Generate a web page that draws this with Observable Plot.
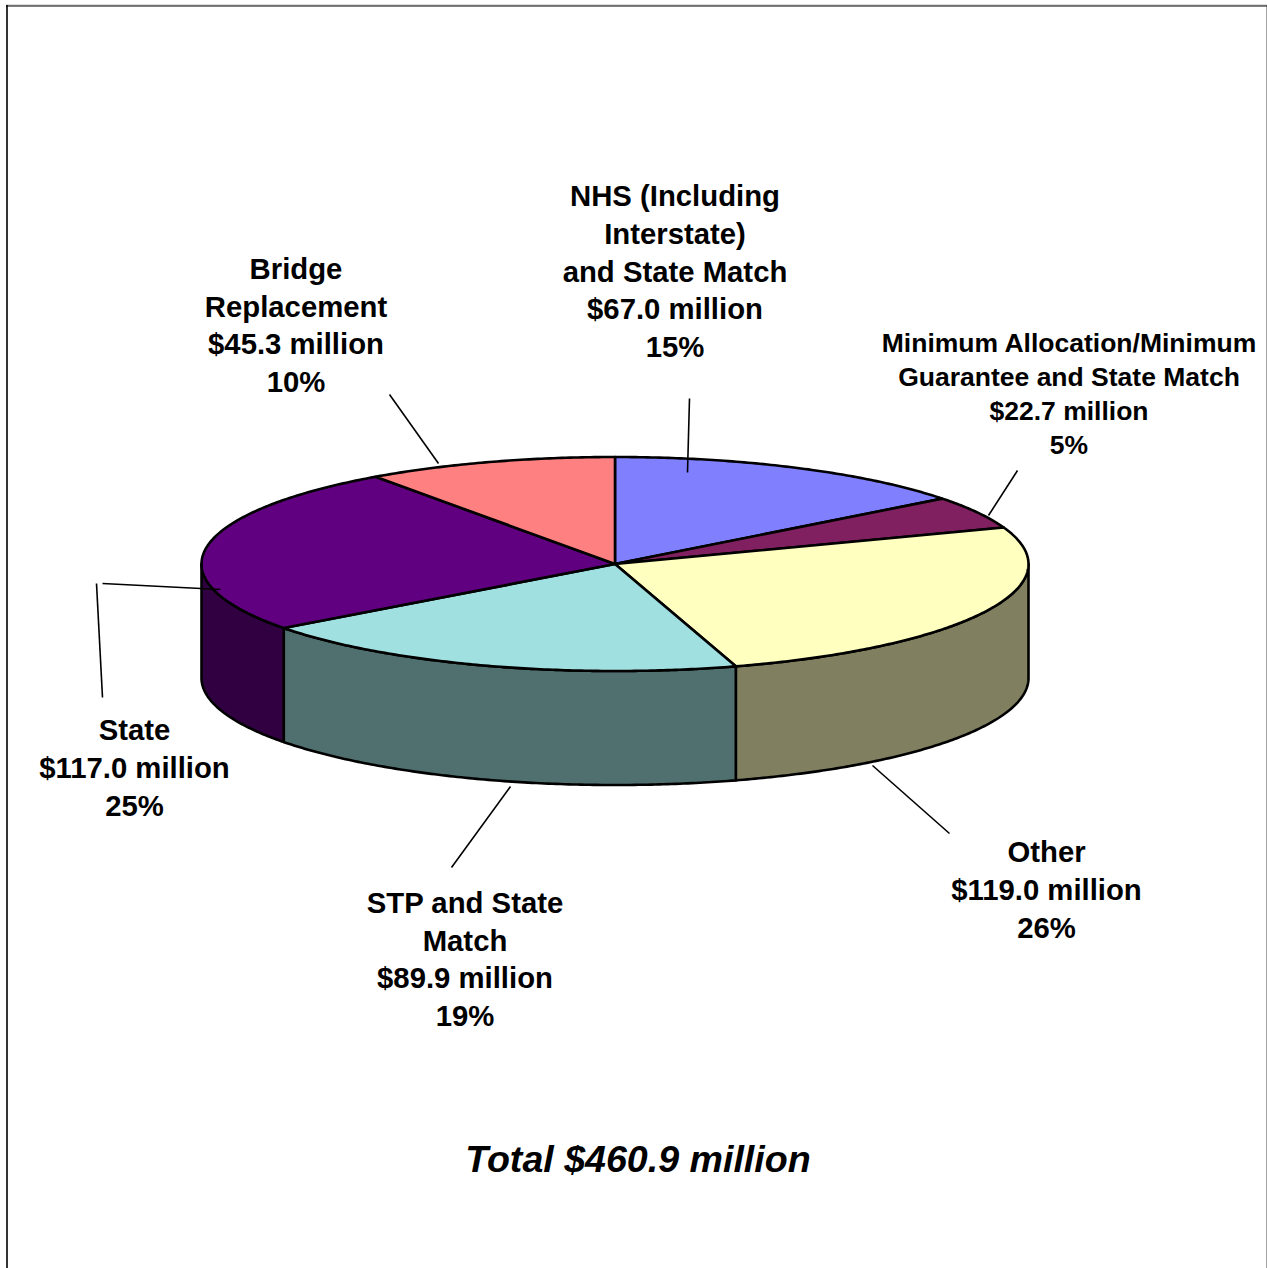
<!DOCTYPE html>
<html>
<head>
<meta charset="utf-8">
<style>html,body{margin:0;padding:0;background:#fff}svg{display:block}</style>
<script src="https://cdn.jsdelivr.net/npm/d3@7"></script>
<script src="https://cdn.jsdelivr.net/npm/@observablehq/plot@0.6"></script>
</head>
<body>
<div id="chart"></div>
<script>
// Data, clockwise from twelve o'clock
const categories = ["NHS (Including\nInterstate)\nand State Match", "Minimum Allocation/Minimum\nGuarantee and State Match", "Other", "STP and State\nMatch", "State", "Bridge\nReplacement"];
const millions = [67.0, 22.7, 119.0, 89.9, 117.0, 45.3];
const percents = [15, 5, 26, 19, 25, 10];
const totalLabel = "Total $460.9 million";

// Styling
const topColors = ["#8080FF", "#802060", "#FFFFC0", "#A0E0E0", "#600080", "#FF8080"];
const sideColors = ["#404080", "#401030", "#808060", "#507070", "#300040", "#804040"];

// Layout
const W = 1267, H = 1268;
const cx = 614.5, cy = 563.5, rx = 413.5, ry = 107, depth = 114;
const FONT = "Liberation Sans, Arial, sans-serif";
const labelAnchors = [[674.5, 269, 29.3], [1068.5, 392, 26.5], [1046, 887.5, 29.3], [464.5, 957, 29.3], [134, 765.5, 29.3], [295.5, 323, 29.3]];
const leaders = [
  [[689, 398], [687, 472]], [[1017, 470], [988, 515]], [[949, 833], [872, 765]],
  [[510, 786], [451, 867]], [[96, 583], [102, 697]], [[102, 583], [220, 589]], [[389, 394], [438, 463]]
];

const total = d3.sum(millions);
const cum = d3.cumsum(millions);
const slices = millions.map((v, i) => ({
  i,
  a0: ((cum[i] - v) / total) * 2 * Math.PI,
  a1: (cum[i] / total) * 2 * Math.PI
}));
const px = a => cx + rx * Math.sin(a);
const py = (a, d = 0) => cy - ry * Math.cos(a) + d;
function arc(a0, a1, d = 0) {
  const n = Math.max(2, Math.ceil((a1 - a0) / 0.01));
  return d3.range(n + 1).map(k => {
    const a = a0 + (a1 - a0) * k / n;
    return [px(a), py(a, d)];
  });
}
const topRows = slices.flatMap(s =>
  [[cx, cy], ...arc(s.a0, s.a1), [cx, cy]].map(([x, y]) => ({x, y, i: s.i})));
const sideRows = slices.flatMap(s => {
  const a0 = Math.max(s.a0, Math.PI / 2), a1 = Math.min(s.a1, 3 * Math.PI / 2);
  if (a1 <= a0) return [];
  const pts = [...arc(a0, a1), ...arc(a0, a1, depth).reverse()];
  pts.push(pts[0]);
  return pts.map(([x, y]) => ({x, y, i: s.i}));
});
const labelRows = categories.map((c, i) => ({
  text: `${c}\n$${millions[i].toFixed(1)} million\n${percents[i]}%`,
  x: labelAnchors[i][0], y: labelAnchors[i][1], size: labelAnchors[i][2]
}));
const leaderRows = leaders.map(([[x1, y1], [x2, y2]]) => ({x1, y1, x2, y2}));
const sliceStyle = {x: "x", y: "y", z: "i", stroke: "#000", strokeWidth: 2.6, strokeLinejoin: "round", curve: "linear"};

const plot = Plot.plot({
  width: W, height: H,
  margin: 0,
  x: {domain: [0, W], range: [0, W], axis: null},
  y: {domain: [0, H], range: [0, H], axis: null},
  style: {background: "#fff"},
  marks: [
    Plot.ruleY([4.5], {x1: 6, x2: W, stroke: "#bbb", strokeWidth: 1}),
    Plot.ruleY([5.5], {x1: 6, x2: W, stroke: "#000", strokeWidth: 1}),
    Plot.ruleX([6.5], {y1: 5, y2: H, stroke: "#000", strokeWidth: 1.6}),
    Plot.ruleX([1266.5], {y1: 5, y2: H, stroke: "#444", strokeWidth: 1}),
    Plot.line(sideRows, {...sliceStyle, fill: d => sideColors[d.i]}),
    Plot.line(topRows, {...sliceStyle, fill: d => topColors[d.i]}),
    Plot.link(leaderRows, {x1: "x1", y1: "y1", x2: "x2", y2: "y2", stroke: "#000", strokeWidth: 1.6}),
    Plot.text(labelRows.filter(d => d.size === 29.3), {
      x: "x", y: "y", text: "text", fontSize: 29.3, lineHeight: 1.284, fontWeight: "bold",
      fontFamily: FONT, fill: "#000", textAnchor: "middle", lineAnchor: "middle"
    }),
    Plot.text(labelRows.filter(d => d.size === 26.5), {
      x: "x", y: "y", text: "text", fontSize: 26.5, lineHeight: 1.283, fontWeight: "bold",
      fontFamily: FONT, fill: "#000", textAnchor: "middle", lineAnchor: "middle"
    }),
    Plot.text([totalLabel], {
      x: [637.5], y: [1159], text: d => d, fontSize: 37.6, fontWeight: "bold", fontStyle: "italic",
      fontFamily: FONT, fill: "#000", textAnchor: "middle", lineAnchor: "middle"
    })
  ]
});
document.getElementById("chart").appendChild(plot);
</script>
</body>
</html>
